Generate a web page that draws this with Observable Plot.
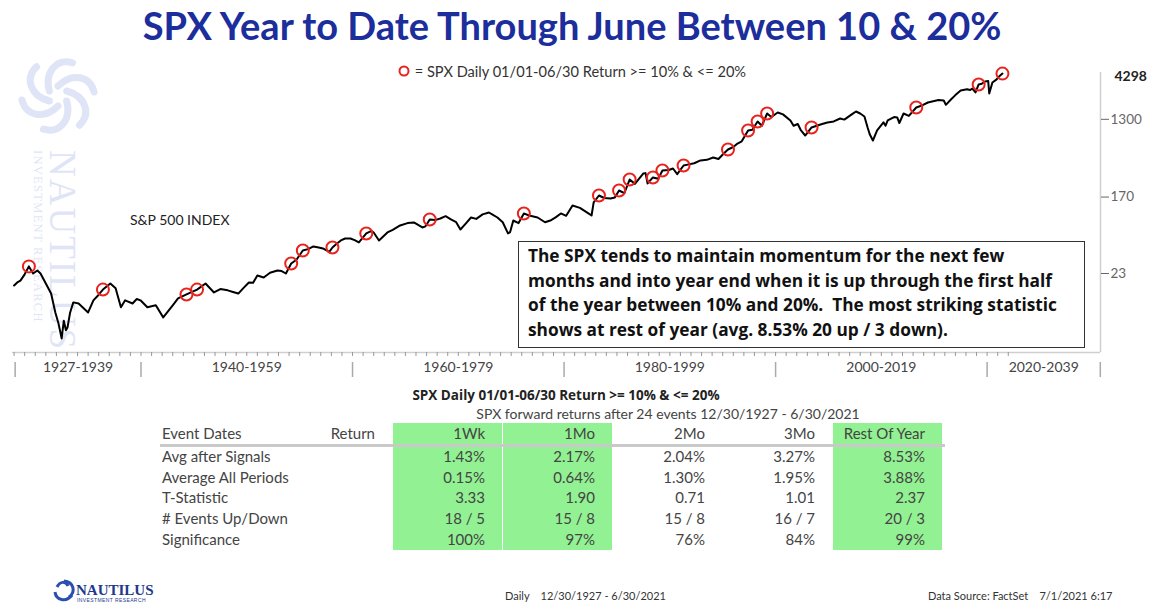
<!DOCTYPE html>
<html><head><meta charset="utf-8">
<script src="https://cdn.jsdelivr.net/npm/d3@7"></script>
<script src="https://cdn.jsdelivr.net/npm/@observablehq/plot@0.6"></script>
<style>
body{margin:0;background:#fff;}
#page{position:relative;width:1153px;height:608px;overflow:hidden;font-family:Lato,"Open Sans",sans-serif;color:#333;}
.abs{position:absolute;white-space:nowrap;}
#title{left:0;width:1144px;top:2px;text-align:center;font-weight:bold;font-size:38px;color:#1c2d9c;}
#legend{left:397px;top:63px;font-size:14.6px;color:#333;}
#chart{left:0;top:55px;}
#note{left:518px;top:241px;width:556px;height:103px;border:1.5px solid #333;background:#fff;font-family:"Open Sans",sans-serif;font-weight:bold;font-size:17.3px;line-height:24.5px;color:#111;padding:2px 0 0 9px;box-sizing:content-box;}
#spxlabel{left:130px;top:211px;font-size:14px;color:#222;}
.cell{position:absolute;white-space:nowrap;font-size:15px;color:#444;line-height:16px;}
.band{position:absolute;background:#92f192;}
#foot1{left:505px;top:589px;font-size:11px;color:#333;}
#foot2{left:928px;top:589px;font-size:11px;color:#333;}
</style></head>
<body><div id="page">
<svg class="abs" style="left:0;top:0" width="120" height="360">
  <g transform="translate(58,96)" fill="none" stroke="#dfe5f6" stroke-width="7" stroke-linecap="round">
    <path d="M0 -10 C 14 -24, 32 -20, 36 -4" transform="rotate(0)"/>
    <path d="M0 -10 C 14 -24, 32 -20, 36 -4" transform="rotate(60)"/>
    <path d="M0 -10 C 14 -24, 32 -20, 36 -4" transform="rotate(120)"/>
    <path d="M0 -10 C 14 -24, 32 -20, 36 -4" transform="rotate(180)"/>
    <path d="M0 -10 C 14 -24, 32 -20, 36 -4" transform="rotate(240)"/>
    <path d="M0 -10 C 14 -24, 32 -20, 36 -4" transform="rotate(300)"/>
  </g>
  <text transform="translate(50,150) rotate(90)" font-family="Liberation Serif" font-size="37" letter-spacing="2" fill="#dfe5f6">NAUTILUS</text>
  <text transform="translate(34,150) rotate(90)" font-family="Liberation Serif" font-size="12.5" letter-spacing="1.3" fill="#dfe5f6">INVESTMENT RESEARCH</text>
</svg>
<div id="title" class="abs">SPX Year to Date Through June Between 10 &amp; 20%</div>
<div id="legend" class="abs"><svg width="14" height="14" style="vertical-align:-1px"><circle cx="7" cy="7" r="4.5" fill="none" stroke="#e8231e" stroke-width="2"/></svg> = SPX Daily 01/01-06/30 Return &gt;= 10% &amp; &lt;= 20%</div>
<div id="chart" class="abs"></div>
<div id="spxlabel" class="abs">S&amp;P 500 INDEX</div>
<div id="note" class="abs">The SPX tends to maintain momentum for the next few<br>months and into year end when it is up through the first half<br>of the year between 10% and 20%.&nbsp; The most striking statistic<br>shows at rest of year (avg. 8.53% 20 up / 3 down).</div>
<div id="table"></div>
<svg class="abs" style="left:52px;top:578px" width="115" height="28">
  <g fill="none" stroke="#2a4fb0" stroke-width="3">
    <path d="M12 3 C 22 4, 24 14, 17 19"/>
    <path d="M20 17 C 14 25, 4 22, 3 14"/>
    <path d="M5 9 C 8 3, 14 3, 16 8"/>
  </g>
  <text x="24" y="17" font-family="Liberation Serif" font-weight="bold" font-size="15" fill="#1e3a8a">NAUTILUS</text>
  <text x="25" y="24" font-family="Liberation Sans" font-size="5" fill="#1e3a8a" letter-spacing="0.4">INVESTMENT RESEARCH</text>
</svg>
<div id="foot1" class="abs">Daily&nbsp;&nbsp;&nbsp;&nbsp;12/30/1927 - 6/30/2021</div>
<div id="foot2" class="abs">Data Source: FactSet&nbsp;&nbsp;&nbsp;&nbsp;7/1/2021 6:17</div>
</div>
<script>
// ---------- data (log-scaled SPX) ----------
const spxYears = [1928.0,1928.3,1928.6,1929.0,1929.4,1929.8,1930.2,1930.5,1931.0,1931.5,1931.9,1932.2,1932.5,1932.7,1932.9,1933.05,1933.3,1933.6,1934.1,1934.6,1935.0,1935.5,1936.0,1936.4,1937.1,1937.6,1938.1,1938.5,1939.2,1939.6,1939.95,1940.6,1941.4,1942.1,1943.0,1943.5,1944.3,1945.3,1946.1,1946.9,1947.5,1948.2,1948.7,1949.2,1949.7,1950.2,1950.6,1951.0,1951.6,1952.2,1952.9,1953.3,1953.7,1954.2,1954.7,1955.3,1955.8,1956.3,1956.8,1957.2,1957.8,1958.1,1958.5,1958.9,1959.3,1959.8,1960.2,1960.6,1961.3,1961.8,1962.0,1962.5,1963.3,1963.8,1964.5,1965.2,1965.8,1966.6,1966.9,1967.3,1967.8,1968.3,1968.8,1969.3,1969.8,1970.2,1970.7,1971.2,1971.7,1972.3,1972.9,1973.2,1973.7,1974.2,1974.7,1974.9,1975.2,1975.7,1976.2,1976.8,1977.5,1978.2,1978.7,1979.2,1979.7,1980.2,1980.8,1981.5,1982.3,1982.6,1982.8,1983.3,1983.8,1984.4,1984.8,1985.2,1985.7,1986.2,1986.7,1987.5,1987.7,1987.9,1988.4,1988.9,1989.3,1989.9,1990.3,1990.7,1991.3,1991.8,1992.3,1992.9,1993.5,1994.1,1994.6,1995.1,1995.5,1996.0,1996.4,1996.8,1997.4,1997.8,1998.3,1998.7,1999.2,1999.6,2000.2,2000.7,2001.4,2001.7,2002.1,2002.4,2002.8,2003.4,2003.9,2004.4,2004.9,2005.5,2006.1,2006.5,2007.2,2007.6,2008.0,2008.4,2008.7,2008.9,2009.2,2009.6,2010.2,2010.4,2010.6,2011.2,2011.5,2011.7,2012.1,2012.6,2013.3,2013.9,2014.4,2015.4,2015.9,2016.1,2016.6,2017.0,2017.5,2018.1,2018.4,2018.6,2018.9,2019.2,2019.5,2019.8,2020.1,2020.2,2020.5,2020.9,2021.1,2021.45];
const spxValues = [16.8,18.2,19.1,22.5,27.7,23.0,24.9,23.0,17.7,13.6,8.3,6.2,4.2,6.7,5.2,5.6,8.3,10.8,10.5,9.2,8.3,11.4,13.2,15.1,17.7,15.6,9.5,11.4,10.5,11.8,11.4,9.5,10.0,7.3,10.0,12.0,13.3,15.1,17.7,14.0,15.3,14.8,14.2,13.6,15.8,18.2,18.0,21.8,20.7,23.5,24.9,24.5,23.0,29.9,33.0,42.0,43.5,46.7,45.5,44.3,40.5,45.4,50.0,54.6,57.5,57.5,55.0,51.8,65.6,70.0,67.3,54.6,67.3,72.0,80.8,86.0,87.5,76.7,79.0,94.6,93.0,97.0,103.0,94.6,88.0,72.8,85.0,99.6,96.0,108.0,113.5,108.0,99.6,88.0,65.6,68.0,92.0,86.0,110.7,104.0,99.6,88.0,92.0,100.0,110.7,104.0,136.5,128.0,110.7,105.0,147.6,177,166,163.7,168,201.8,188,269,240,315,318,242.7,284,275,340,345,359,310,388,400,412,443,450,479,460,532,590,630,690,730,971,990,1227,1100,1514,1380,1556,1480,1262,1100,1150,971,851,1050,1100,1150,1197,1230,1327,1290,1480,1596,1514,1400,1050,880,747,971,1200,1100,1262,1380,1364,1180,1514,1420,1770,1880,2018,2150,2128,1900,2200,2450,2767,2850,2800,2911,2624,3236,3300,3499,3550,2553,3404,3700,3950,4298];
const eventYears = [1929.4,1936.4,1944.3,1945.3,1954.2,1955.3,1958.1,1961.3,1967.3,1976.2,1983.3,1985.2,1986.2,1988.4,1989.3,1991.3,1995.5,1997.4,1998.3,1999.2,2003.4,2013.3,2019.2,2021.45];
const eventValues = [27.7,15.1,13.3,15.1,29.9,42.0,45.4,65.6,94.6,110.7,177,201.8,269,284,340,388,590,971,1227,1514,1050,1770,3236,4298];
const yTicks = [23,170,1300];
const lastValue = 4298;
const eraBounds = [1928.1,1940,1960,1980,2000,2020,2030.7];
const eraLabels = ["1927-1939","1940-1959","1960-1979","1980-1999","2000-2019","2020-2039"];

const statLabels = ["Avg after Signals","Average All Periods","T-Statistic","# Events Up/Down","Significance"];
const colHeaders = ["1Wk","1Mo","2Mo","3Mo","Rest Of Year"];
const wk1 = ["1.43%","0.15%","3.33","18 / 5","100%"];
const mo1 = ["2.17%","0.64%","1.90","15 / 8","97%"];
const mo2 = ["2.04%","1.30%","0.71","15 / 8","76%"];
const mo3 = ["3.27%","1.95%","1.01","16 / 7","84%"];
const restOfYear = ["8.53%","3.88%","2.37","20 / 3","99%"];
const highlightedCols = ["1Wk","1Mo","Rest Of Year"];
const tableTitle = "SPX Daily 01/01-06/30 Return >= 10% & <= 20%";
const tableSubtitle = "SPX forward returns after 24 events 12/30/1927 - 6/30/2021";

// ---------- chart ----------
const spx = spxYears.map((y,i)=>({year:y, value:spxValues[i]}));
const events = eventYears.map((y,i)=>({year:y, value:eventValues[i]}));
const years = d3.range(1928, 2023);
const yMin = 2.91, yMax = 4426, xMin = 1927.85, xMax = 2030.72;

const chart = Plot.plot({
  width: 1153, height: 330,
  marginTop: 17, marginBottom: 33, marginLeft: 12, marginRight: 53,
  x: {type: "linear", domain: [xMin, xMax]},
  y: {type: "log", domain: [yMin, yMax]},
  style: {fontFamily: "Lato, sans-serif", background: "transparent", overflow: "visible"},
  marks: [
    Plot.ruleY([yMin], {stroke: "#cfcfcf", strokeWidth: 1.5}),
    Plot.ruleX([xMax], {stroke: "#cfcfcf", strokeWidth: 1.5}),
    Plot.axisX({ticks: years, tickSize: 4, tickFormat: () => "", stroke: "#999", label: null}),
    Plot.axisX({ticks: eraBounds, tickSize: 15, dy: 10, tickFormat: () => "", stroke: "#aaa", strokeWidth: 1.5, label: null}),
    Plot.text(eraLabels, {x: (d, i) => (eraBounds[i] + eraBounds[i + 1]) / 2, frameAnchor: "bottom", dy: 19, fontSize: 14, fill: "#444"}),
    Plot.axisY({anchor: "right", ticks: yTicks, tickSize: 8, tickPadding: 2, fontSize: 13.5, color: "#666", label: null, tickFormat: d => String(d)}),
    Plot.text([lastValue], {y: d => d, text: d => String(d), frameAnchor: "right", dx: 14, dy: 3, textAnchor: "start", fontWeight: "bold", fontSize: 14, fill: "#222"}),
    Plot.line(spx, {x: "year", y: "value", stroke: "#000", strokeWidth: 2}),
    Plot.dot(events, {x: "year", y: "value", r: 6, stroke: "#e8231e", strokeWidth: 2, fill: "none"})
  ]
});
document.getElementById("chart").appendChild(chart);

// ---------- table ----------
const tbl = document.getElementById("table");
function cell(text, left, top, opts = {}) {
  const d = document.createElement("div");
  d.className = "cell";
  d.textContent = text;
  if (opts.right !== undefined) { d.style.left = (opts.right - 200) + "px"; d.style.width = "200px"; d.style.textAlign = "right"; }
  else if (opts.center !== undefined) { d.style.left = (opts.center - 300) + "px"; d.style.width = "600px"; d.style.textAlign = "center"; }
  else d.style.left = left + "px";
  d.style.top = top + "px";
  if (opts.style) Object.assign(d.style, opts.style);
  tbl.appendChild(d);
}
const colRight = [485, 595, 705, 815, 925];
const bandSpans = {"1Wk": [393, 502], "1Mo": [503, 612], "Rest Of Year": [833, 942]};
highlightedCols.forEach(c => {
  const b = document.createElement("div");
  b.className = "band";
  b.style.left = bandSpans[c][0] + "px"; b.style.width = (bandSpans[c][1] - bandSpans[c][0]) + "px";
  b.style.top = "423px"; b.style.height = "127px";
  tbl.appendChild(b);
});
const rule = document.createElement("div");
rule.style.cssText = "position:absolute;left:160px;width:785px;top:444px;height:3px;background:#c9c9c9;";
tbl.appendChild(rule);
cell(tableTitle, 0, 387, {center: 566, style: {fontFamily: "'Open Sans',sans-serif", fontWeight: "bold", fontSize: "13.5px", color: "#222"}});
cell(tableSubtitle, 0, 406, {center: 668, style: {fontSize: "14px", color: "#444"}});
cell("Event Dates", 162, 425);
cell("Return", 0, 425, {right: 375});
colHeaders.forEach((h, i) => cell(h, 0, 425, {right: colRight[i]}));
const rowTops = [448, 469, 489, 510, 531];
const cols = [wk1, mo1, mo2, mo3, restOfYear];
statLabels.forEach((lab, r) => {
  cell(lab, 162, rowTops[r]);
  cols.forEach((col, c) => cell(col[r], 0, rowTops[r], {right: colRight[c]}));
});
</script>
</body></html>
